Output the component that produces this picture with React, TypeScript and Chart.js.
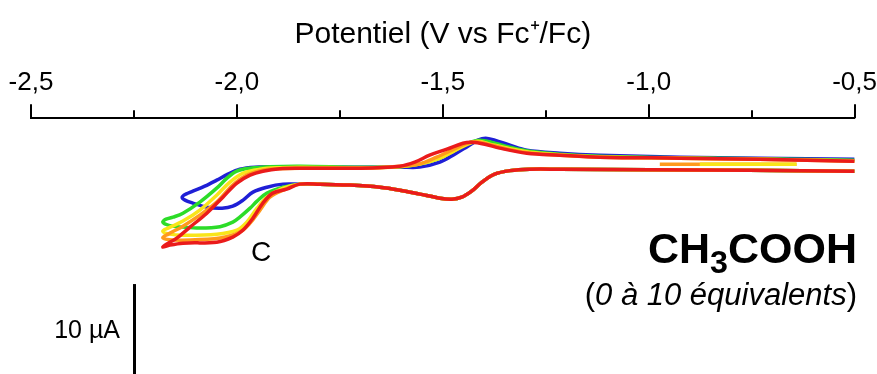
import React, { useEffect, useRef } from "react";
import { Chart, registerables } from "chart.js";

Chart.register(...registerables);

const FONT = '"Liberation Sans", Arial, Helvetica, sans-serif';

// Potential axis (V vs Fc+/Fc)
const xMin = -2.5;
const xMax = -0.5;
const xStep = 0.25;
// Current axis (µA), hidden
const yMin = -23.44;
const yMax = 5;

// Scale bar: 10 µA
const scaleBarV = -2.25;
const scaleBarFrom = -23.44;
const scaleBarUA = 10;

// Common cathodic (forward) sweep from -0.5 V down to about -1.85 V
const lowerRightV = [-0.5, -0.755, -0.998, -1.216, -1.289, -1.337, -1.374, -1.405, -1.43, -1.454, -1.478, -1.507, -1.556, -1.604, -1.653, -1.726, -1.799, -1.847];
const lowerRightI = [-0.89, -0.78, -0.72, -0.67, -0.67, -0.83, -1.22, -2.11, -3.11, -3.78, -4.0, -3.89, -3.44, -3.0, -2.67, -2.44, -2.33, -2.33];

// Blue (0 eq.)
const blueLeftV = [-1.888, -1.927, -1.961, -1.985, -2.01, -2.036, -2.073, -2.107, -2.126, -2.133, -2.124, -2.107, -2.078, -2.049, -2.022, -1.993, -1.956, -1.896];
const blueLeftI = [-2.33, -2.67, -3.22, -4.11, -4.78, -5.0, -4.89, -4.44, -4.11, -3.78, -3.44, -3.11, -2.56, -1.89, -1.22, -0.67, -0.44, -0.39];
const blueUpperV = [-1.847, -1.701, -1.604, -1.556, -1.507, -1.471, -1.439, -1.415, -1.396, -1.374, -1.337, -1.296, -1.216, -1.119, -0.925, -0.731, -0.5];
const blueUpperI = [-0.44, -0.44, -0.44, -0.44, 0.11, 1.0, 1.89, 2.56, 2.78, 2.56, 2.0, 1.44, 1.11, 0.89, 0.67, 0.56, 0.44];

// Green
const greenLeftV = [-1.888, -1.927, -1.951, -1.968, -1.993, -2.01, -2.041, -2.09, -2.131, -2.163, -2.18, -2.172, -2.155, -2.131, -2.09, -2.049, -2.024, -2.0, -1.968, -1.92];
const greenLeftI = [-2.67, -3.33, -4.22, -5.0, -6.0, -6.56, -7.06, -7.22, -7.11, -6.94, -6.56, -6.22, -6.0, -5.56, -4.33, -2.78, -1.67, -0.89, -0.56, -0.39];
const greenUpperV = [-1.847, -1.701, -1.604, -1.556, -1.507, -1.471, -1.439, -1.41, -1.374, -1.337, -1.289, -1.216, -1.119, -0.925, -0.731, -0.5];
const greenUpperI = [-0.33, -0.44, -0.39, -0.11, 0.56, 1.44, 2.22, 2.56, 2.22, 1.78, 1.33, 1.0, 0.78, 0.61, 0.5, 0.33];

// Yellow
const yellowLeftV = [-1.888, -1.927, -1.951, -1.976, -2.0, -2.049, -2.131, -2.163, -2.18, -2.167, -2.131, -2.09, -2.049, -2.017, -1.985, -1.944, -1.896];
const yellowLeftI = [-2.78, -3.78, -5.0, -6.56, -7.44, -7.89, -8.0, -7.89, -7.56, -7.22, -6.44, -5.22, -3.56, -2.11, -1.11, -0.67, -0.5];
const yellowUpperV = [-1.847, -1.701, -1.604, -1.556, -1.507, -1.471, -1.439, -1.415, -1.381, -1.337, -1.289, -1.216, -1.119, -0.925, -0.731, -0.5];
const yellowUpperI = [-0.44, -0.5, -0.39, -0.11, 0.56, 1.39, 2.11, 2.44, 2.06, 1.61, 1.22, 0.94, 0.72, 0.56, 0.44, 0.28];
const yellowStartV = [-0.876, -0.641];
const yellowStartI = [-0.11, -0.11];

// Orange
const orangeLeftV = [-1.888, -1.92, -1.944, -1.968, -1.993, -2.041, -2.131, -2.163, -2.18, -2.167, -2.131, -2.09, -2.049, -2.01, -1.976, -1.937, -1.896];
const orangeLeftI = [-3.0, -3.78, -5.22, -6.67, -7.67, -8.33, -8.56, -8.5, -8.28, -7.89, -7.0, -5.78, -4.33, -2.44, -1.33, -0.78, -0.61];
const orangeUpperV = [-1.847, -1.701, -1.604, -1.556, -1.515, -1.478, -1.447, -1.422, -1.386, -1.342, -1.294, -1.216, -1.119, -0.925, -0.731, -0.5];
const orangeUpperI = [-0.56, -0.56, -0.33, -0.06, 0.67, 1.44, 2.11, 2.39, 2.06, 1.56, 1.17, 0.89, 0.67, 0.56, 0.44, 0.22];
const orangeStartV = [-0.973, -0.641];
const orangeStartI = [-0.11, -0.11];

// Red (10 eq.)
const redLeftV = [-1.879, -1.913, -1.937, -1.961, -1.985, -2.01, -2.049, -2.131, -2.163, -2.18, -2.167, -2.146, -2.114, -2.073, -2.034, -2.0, -1.968, -1.937, -1.896];
const redLeftI = [-2.89, -3.33, -4.44, -6.11, -7.44, -8.22, -8.78, -8.89, -9.11, -9.33, -8.89, -8.33, -7.11, -5.56, -3.78, -2.22, -1.33, -0.89, -0.61];
const redUpperV = [-1.847, -1.701, -1.604, -1.568, -1.532, -1.49, -1.451, -1.43, -1.398, -1.362, -1.296, -1.216, -1.119, -0.925, -0.731, -0.5];
const redUpperI = [-0.56, -0.56, -0.33, 0.11, 0.89, 1.56, 2.22, 2.33, 2.11, 1.67, 1.11, 0.89, 0.67, 0.56, 0.44, 0.22];

const COLORS = {
  blue: "#1f1fd6",
  green: "#2cdc28",
  yellow: "#f9e51a",
  orange: "#ff9a1c",
  red: "#ea1b1b",
};

function pts(vs: number[], is: number[]) {
  return vs.map((v, k) => ({ x: v, y: is[k] }));
}

function loop(leftV: number[], leftI: number[], upV: number[], upI: number[]) {
  return [...pts(lowerRightV, lowerRightI), ...pts(leftV, leftI), ...pts(upV, upI)];
}

function ds(label: string, data: { x: number; y: number }[], color: string) {
  return {
    label,
    data,
    borderColor: color,
    backgroundColor: color,
    borderWidth: 3.5,
    pointRadius: 0,
    showLine: true,
    tension: 0.35,
    fill: false,
  };
}

const axisTicksPlugin = {
  id: "axisTicks",
  afterDraw(chart: any) {
    const { ctx, chartArea, scales } = chart;
    const xs = scales.x;
    const ys = scales.y;
    ctx.save();
    ctx.strokeStyle = "#000";
    ctx.lineWidth = 2;
    ctx.beginPath();
    xs.ticks.forEach((t: any) => {
      const px = Math.round(xs.getPixelForValue(t.value));
      const major = Math.abs(t.value * 2 - Math.round(t.value * 2)) < 1e-6;
      ctx.moveTo(px, chartArea.top);
      ctx.lineTo(px, chartArea.top - (major ? 14 : 8));
    });
    ctx.stroke();
    // scale bar
    ctx.lineWidth = 3;
    ctx.beginPath();
    const bx = Math.round(xs.getPixelForValue(scaleBarV)) + 0.5;
    ctx.moveTo(bx, ys.getPixelForValue(scaleBarFrom));
    ctx.lineTo(bx, ys.getPixelForValue(scaleBarFrom + scaleBarUA));
    ctx.stroke();
    ctx.restore();
  },
};

export default function App() {
  const ref = useRef<HTMLCanvasElement>(null);
  useEffect(() => {
    const chart = new Chart(ref.current as HTMLCanvasElement, {
      type: "scatter",
      data: {
        datasets: [
          ds("10 éq.", loop(redLeftV, redLeftI, redUpperV, redUpperI), COLORS.red),
          ds("orange", loop(orangeLeftV, orangeLeftI, orangeUpperV, orangeUpperI), COLORS.orange),
          ds("yellow", loop(yellowLeftV, yellowLeftI, yellowUpperV, yellowUpperI), COLORS.yellow),
          ds("yellow start", pts(yellowStartV, yellowStartI), COLORS.yellow),
          ds("orange start", pts(orangeStartV, orangeStartI), COLORS.orange),
          ds("green", loop(greenLeftV, greenLeftI, greenUpperV, greenUpperI), COLORS.green),
          ds("0 éq.", loop(blueLeftV, blueLeftI, blueUpperV, blueUpperI), COLORS.blue),
        ] as any,
      },
      plugins: [axisTicksPlugin],
      options: {
        responsive: false,
        animation: false,
        devicePixelRatio: 1,
        layout: { padding: { left: 31, right: 22, top: 0, bottom: 0 } },
        plugins: {
          legend: { display: false },
          tooltip: { enabled: false },
        },
        scales: {
          x: {
            type: "linear",
            position: "top",
            min: xMin,
            max: xMax,
            grid: {
              display: true,
              drawOnChartArea: false,
              drawTicks: true,
              tickLength: 20,
              tickColor: "rgba(0,0,0,0)",
            },
            border: { display: true, color: "#000", width: 2 },
            ticks: {
              stepSize: xStep,
              autoSkip: false,
              maxRotation: 0,
              minRotation: 0,
              padding: 0,
              color: "#000",
              font: { family: FONT, size: 26 },
              callback: (v: any) => {
                const n = Number(v);
                if (Math.abs(n * 2 - Math.round(n * 2)) > 1e-6) return "";
                return n.toFixed(1).replace(".", ",");
              },
            },
            title: {
              display: true,
              text: "Potentiel (V vs Fc⁺/Fc)",
              color: "#000",
              font: { family: FONT, size: 30 },
              padding: { top: 17, bottom: 14 },
            },
          },
          y: {
            type: "linear",
            display: false,
            min: yMin,
            max: yMax,
          },
        },
      },
    });
    return () => chart.destroy();
  }, []);

  return (
    <div style={{ position: "absolute", left: 0, top: 0, width: 877, height: 374, background: "#fff", fontFamily: FONT, color: "#000", overflow: "hidden" }}>
      <canvas ref={ref} width={877} height={374} style={{ display: "block" }} />
      <div style={{ position: "absolute", left: 251, top: 238, fontSize: 28, lineHeight: 1 }}>C</div>
      <div style={{ position: "absolute", right: 20, top: 227, fontSize: 43, lineHeight: 1, fontWeight: "bold", whiteSpace: "nowrap" }}>
        CH<span style={{ position: "relative", top: 10, fontSize: "0.75em" }}>3</span>COOH
      </div>
      <div style={{ position: "absolute", right: 20, top: 279, fontSize: 31, lineHeight: 1, whiteSpace: "nowrap" }}>
        (<i>0 à 10 équivalents</i>)
      </div>
      <div style={{ position: "absolute", right: 757, top: 317, fontSize: 25, lineHeight: 1, whiteSpace: "nowrap" }}>10 µA</div>
    </div>
  );
}
